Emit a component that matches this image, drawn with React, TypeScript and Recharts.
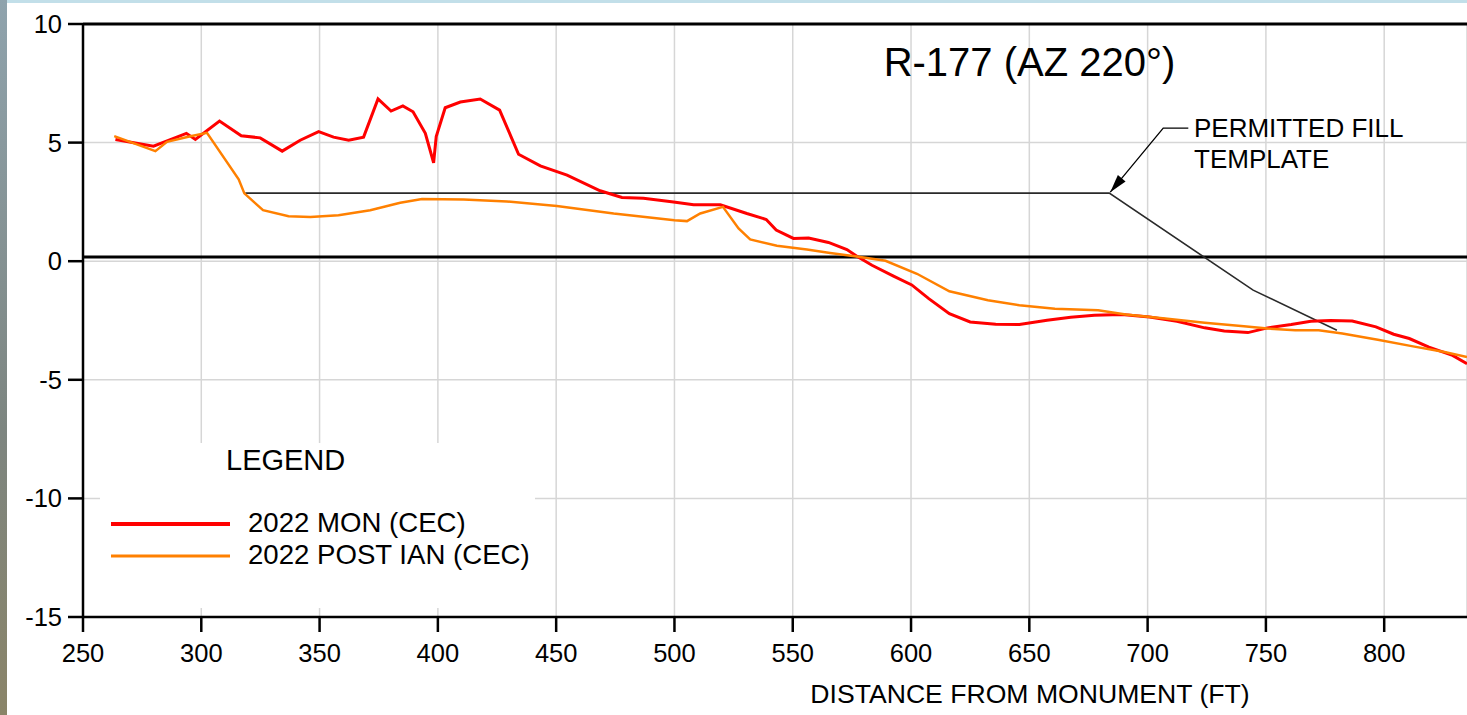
import { LineChart, Line, XAxis, YAxis, CartesianGrid, ReferenceLine, ReferenceDot, Legend } from 'recharts';

// Profile R-177, distance from monument (ft) vs elevation (ft)
const monDist = [263.7, 279.8, 293.7, 297.5, 307.7, 316.9, 324.9, 334.2, 341.8, 349.6, 355.9, 362.3, 368.6, 374.7, 380.2, 385.2, 389.5, 394.7, 398.2, 399.3, 403.1, 409.5, 417.9, 426.1, 434.1, 443.3, 454.6, 468.6, 477.8, 486.9, 499.6, 508.1, 519.4, 530.6, 538.8, 543.0, 550.3, 556.7, 565.1, 572.9, 577.1, 583.5, 592.6, 600.3, 607.5, 616.2, 625.0, 635.8, 645.8, 657.5, 667.5, 677.5, 689.1, 700.8, 712.4, 724.1, 732.4, 742.4, 750.7, 760.7, 769.0, 777.3, 786.5, 796.5, 804.0, 810.6, 818.9, 828.9, 835.0];
const monElev = [5.13, 4.85, 5.39, 5.13, 5.91, 5.29, 5.2, 4.64, 5.1, 5.46, 5.23, 5.1, 5.23, 6.84, 6.33, 6.55, 6.3, 5.39, 4.15, 5.25, 6.47, 6.71, 6.84, 6.37, 4.51, 4.02, 3.63, 2.97, 2.69, 2.65, 2.5, 2.38, 2.38, 2.01, 1.76, 1.31, 0.96, 0.98, 0.79, 0.49, 0.21, -0.17, -0.63, -1.0, -1.58, -2.21, -2.56, -2.66, -2.67, -2.49, -2.36, -2.28, -2.25, -2.35, -2.53, -2.81, -2.94, -3.01, -2.81, -2.67, -2.53, -2.5, -2.52, -2.77, -3.08, -3.26, -3.62, -3.97, -4.32];

const postDist = [263.2, 280.6, 285.5, 295.4, 302.4, 315.8, 318.2, 326.1, 336.9, 346.1, 358.0, 371.4, 384.1, 393.3, 410.9, 429.2, 450.3, 474.3, 500.0, 505.3, 510.9, 520.5, 527.1, 532.0, 543.3, 556.0, 565.8, 578.5, 589.2, 602.5, 616.2, 632.5, 645.8, 660.8, 679.1, 690.8, 707.4, 724.1, 740.7, 750.7, 762.4, 772.3, 782.3, 797.3, 812.2, 825.5, 835.0];
const postElev = [5.27, 4.64, 5.03, 5.27, 5.41, 3.45, 2.86, 2.15, 1.9, 1.86, 1.94, 2.15, 2.46, 2.62, 2.6, 2.52, 2.33, 2.01, 1.73, 1.69, 2.01, 2.29, 1.38, 0.92, 0.65, 0.49, 0.35, 0.18, 0.02, -0.53, -1.27, -1.65, -1.86, -2.0, -2.07, -2.25, -2.42, -2.59, -2.74, -2.84, -2.91, -2.91, -3.05, -3.31, -3.59, -3.83, -4.04];

const templateDist = [318.6, 683.8, 744.6, 780.0];
const templateElev = [2.87, 2.87, -1.22, -2.91];

// leader from the note to the template crest
const leaderDist = [717.2, 706.6, 684.2];
const leaderElev = [5.61, 5.61, 2.91];

const datumElev = 0.18;
const xTicks = [250, 300, 350, 400, 450, 500, 550, 600, 650, 700, 750, 800];
const yTicks = [-15, -10, -5, 0, 5, 10];

const zip = (xs: number[], ys: number[]) => xs.map((x, i) => ({ x, y: ys[i] }));
const monData = zip(monDist, monElev);
const postData = zip(postDist, postElev);
const templateData = zip(templateDist, templateElev);
const leaderData = zip(leaderDist, leaderElev);

const FONT = '"Liberation Sans", Arial, sans-serif';

const ArrowHead = (props: any) => {
  const { cx, cy } = props;
  if (cx == null || cy == null) return null;
  // direction of the leader's last segment, in pixels
  const ux = -0.638, uy = 0.77;
  const len = 18, half = 5;
  const bx = cx - ux * len, by = cy - uy * len;
  const nx = uy, ny = -ux;
  const pts = `${cx},${cy} ${bx + nx * half},${by + ny * half} ${bx - nx * half},${by - ny * half}`;
  return <polygon points={pts} fill="#000" />;
};

const LegendBox = (props: any) => {
  const items = (props.payload || []).filter((p: any) => p.type !== 'none');
  return (
    <svg width={435} height={165} style={{ display: 'block' }}>
      <rect x={0} y={0} width={435} height={165} fill="#fff" />
      <text x={126} y={27} fontSize={29} fontFamily={FONT} fill="#000">LEGEND</text>
      {items.map((it: any, i: number) => (
        <g key={i}>
          <line x1={11} x2={130} y1={81 + i * 32} y2={81 + i * 32} stroke={it.color} strokeWidth={i === 0 ? 4 : 3} />
          <text x={148} y={89 + i * 32} fontSize={27.6} fontFamily={FONT} fill="#000">{it.value}</text>
        </g>
      ))}
    </svg>
  );
};

export default function App() {
  return (
    <div style={{ position: 'absolute', left: 0, top: 0, width: 1467, height: 715, background: '#fff', overflow: 'hidden' }}>
      <LineChart width={1467} height={715} margin={{ top: 24, right: 0, bottom: 0, left: 0 }}>
        <CartesianGrid stroke="#d6d6d6" strokeWidth={1.5} />
        <XAxis
          type="number"
          dataKey="x"
          domain={[250, 835]}
          ticks={xTicks}
          allowDataOverflow
          height={98}
          tickSize={15}
          tickMargin={12}
          axisLine={{ stroke: '#000', strokeWidth: 2.5 }}
          tickLine={{ stroke: '#000', strokeWidth: 2.5 }}
          tick={{ fontSize: 25.5, fill: '#000', fontFamily: FONT }}
        />
        <YAxis
          type="number"
          dataKey="y"
          domain={[-15, 10]}
          ticks={yTicks}
          allowDataOverflow
          width={83}
          tickSize={15}
          tickMargin={6}
          axisLine={{ stroke: '#000', strokeWidth: 2.5 }}
          tickLine={{ stroke: '#000', strokeWidth: 2.5 }}
          tick={{ fontSize: 25.5, fill: '#000', fontFamily: FONT }}
        />
        <ReferenceLine y={10} stroke="#000" strokeWidth={3} />
        <ReferenceLine y={datumElev} stroke="#000" strokeWidth={3} />
        <Line data={templateData} dataKey="y" type="linear" stroke="#2a2a2a" strokeWidth={1.6} dot={false} legendType="none" isAnimationActive={false} />
        <Line data={leaderData} dataKey="y" type="linear" stroke="#000" strokeWidth={1.3} dot={false} legendType="none" isAnimationActive={false} />
        <ReferenceDot x={leaderDist[2]} y={leaderElev[2]} r={0} shape={ArrowHead} />
        <Line data={monData} dataKey="y" name="2022 MON (CEC)" type="linear" stroke="#ff0000" strokeWidth={3} dot={false} isAnimationActive={false} />
        <Line data={postData} dataKey="y" name="2022 POST IAN (CEC)" type="linear" stroke="#ff8000" strokeWidth={2.5} dot={false} isAnimationActive={false} />
        <Legend
          layout="horizontal"
          verticalAlign="middle"
          align="center"
          content={<LegendBox />}
          wrapperStyle={{ position: 'absolute', left: 100, top: 443, width: 435, height: 165 }}
        />
      </LineChart>
      <svg width={1467} height={715} style={{ position: 'absolute', left: 0, top: 0, pointerEvents: 'none' }}>
        <text x={1029.5} y={76} textAnchor="middle" fontSize={40} fontFamily={FONT} fill="#000">R-177 (AZ 220°)</text>
        <text x={1194} y={137} fontSize={26} fontFamily={FONT} fill="#000">PERMITTED FILL</text>
        <text x={1194} y={168} fontSize={26} fontFamily={FONT} fill="#000">TEMPLATE</text>
        <text x={1030} y={703} textAnchor="middle" fontSize={26.6} fontFamily={FONT} fill="#000">DISTANCE FROM MONUMENT (FT)</text>
      </svg>
      <div style={{ position: 'absolute', left: 0, top: 0, width: 1467, height: 3, background: '#c2dfe9' }} />
      <div style={{ position: 'absolute', left: 0, top: 0, width: 7, height: 715, background: 'linear-gradient(#8fa3ad, #7d8580 60%, #8a8468)' }} />
    </div>
  );
}
